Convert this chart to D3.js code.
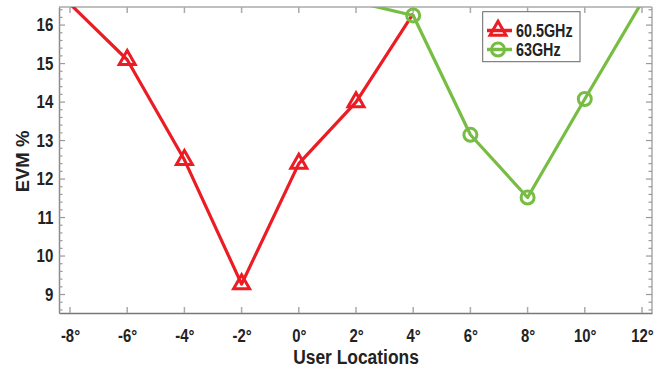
<!DOCTYPE html>
<html>
<head>
<meta charset="utf-8">
<script src="https://cdn.jsdelivr.net/npm/d3@7"></script>
<style>
  html, body { margin: 0; padding: 0; background: #fff; }
  svg { display: block; }
  text { font-family: "Liberation Sans", Arial, sans-serif; font-weight: bold; fill: #222; }
</style>
</head>
<body>
<svg id="chart" width="662" height="368"></svg>
<script>
// User location angles (degrees)
const locations = [-8, -6, -4, -2, 0, 2, 4, 6, 8, 10, 12];

// EVM % at 60.5 GHz (measured from -8° to 4°)
const locs605 = [-8, -6, -4, -2, 0, 2, 4];
const evm605 = [16.55, 15.1, 12.5, 9.27, 12.4, 14.0, 16.3];

// EVM % at 63 GHz (measured from 2° to 12°)
const locs63 = [2, 4, 6, 8, 10, 12];
const evm63 = [16.6, 16.25, 13.15, 11.52, 14.08, 16.6];

const yTicks = [9, 10, 11, 12, 13, 14, 15, 16];
const seriesNames = ["60.5GHz", "63GHz"];
const seriesColors = ["#ec1c24", "#77bd43"];

const svg = d3.select("#chart");
const plotL = 59, plotR = 652, plotT = 7, plotB = 313;

const x = d3.scaleLinear().domain([-8.385, 12.35]).range([plotL, plotR]);
const y = d3.scaleLinear().domain([8.52, 16.47]).range([plotB, plotT]);

svg.append("defs").append("clipPath").attr("id", "plotClip")
  .append("rect").attr("x", plotL).attr("y", plotT)
  .attr("width", plotR - plotL).attr("height", plotB - plotT);

// Box outline (top and right)
const frame = svg.append("g");
frame.append("line").attr("x1", plotL).attr("x2", plotR).attr("y1", plotT).attr("y2", plotT)
  .attr("stroke", "#aaa").attr("stroke-width", 1.5);
frame.append("line").attr("x1", plotR).attr("x2", plotR).attr("y1", plotT).attr("y2", plotB)
  .attr("stroke", "#aaa").attr("stroke-width", 1.5);

// Minor ticks on y (every 0.2)
const minorY = d3.range(8.6, 16.45, 0.2).filter(v => Math.abs(v - Math.round(v)) > 0.01);

// Bottom axis
const xAxis = d3.axisBottom(x).tickValues(locations).tickSize(0)
  .tickFormat(d => d + "°");
const gx = svg.append("g").attr("transform", `translate(0,${plotB})`).call(xAxis);
gx.select(".domain").attr("stroke", "#777").attr("stroke-width", 1.5);
gx.selectAll("text").style("font-size", "17.5px").attr("fill", "#222")
  .attr("y", 29.5).attr("dy", null).attr("transform", "scale(0.85,1)");

// inward x ticks at bottom and top
svg.append("g").selectAll("line").data(locations).join("line")
  .attr("x1", d => x(d)).attr("x2", d => x(d))
  .attr("y1", plotB).attr("y2", plotB - 6)
  .attr("stroke", "#aaa").attr("stroke-width", 1.5);
svg.append("g").selectAll("line").data(locations).join("line")
  .attr("x1", d => x(d)).attr("x2", d => x(d))
  .attr("y1", plotT).attr("y2", plotT + 6)
  .attr("stroke", "#aaa").attr("stroke-width", 1.5);

// Left axis
const yAxis = d3.axisLeft(y).tickValues(yTicks).tickSize(0);
const gy = svg.append("g").attr("transform", `translate(${plotL},0)`).call(yAxis);
gy.select(".domain").attr("stroke", "#8a8a8a").attr("stroke-width", 1.5);
gy.selectAll("text").style("font-size", "17.5px").attr("fill", "#222")
  .attr("x", -5.7 / 0.86).attr("transform", "scale(0.86,1)");

// inward y ticks, left and right
[[plotL, 1], [plotR, -1]].forEach(([x0, dir]) => {
  const g = svg.append("g");
  g.selectAll("line.major").data(yTicks).join("line").attr("class", "major")
    .attr("x1", x0).attr("x2", x0 + dir * 6)
    .attr("y1", d => y(d)).attr("y2", d => y(d))
    .attr("stroke", "#999").attr("stroke-width", 1.2);
  g.selectAll("line.minor").data(minorY).join("line").attr("class", "minor")
    .attr("x1", x0).attr("x2", x0 + dir * 3.5)
    .attr("y1", d => y(d)).attr("y2", d => y(d))
    .attr("stroke", "#999").attr("stroke-width", 1.2);
});

// Axis titles
svg.append("text").attr("transform", "translate(356,364) scale(0.87,1)")
  .attr("text-anchor", "middle").style("font-size", "20px").text("User Locations");
svg.append("text").attr("transform", "translate(28.5,161.5) rotate(-90)")
  .attr("text-anchor", "middle").style("font-size", "18.5px").text("EVM %");

// Series
const series = [
  { name: seriesNames[0], color: seriesColors[0], xs: locs605, ys: evm605, marker: "tri" },
  { name: seriesNames[1], color: seriesColors[1], xs: locs63, ys: evm63, marker: "circ" }
];

const line = d3.line().x(d => x(d[0])).y(d => y(d[1]));
// upward triangle with its centroid on the data point
const triPath = "M0,-9.3 L8,4.7 L-8,4.7 Z";

function drawMarker(g, type, color) {
  if (type === "tri") {
    g.append("path").attr("d", triPath).attr("fill", "none")
      .attr("stroke", color).attr("stroke-width", 3).attr("stroke-linejoin", "miter");
  } else {
    g.append("circle").attr("r", 6.5).attr("fill", "none")
      .attr("stroke", color).attr("stroke-width", 3);
  }
}

const plot = svg.append("g");
series.forEach(s => {
  const pts = s.xs.map((v, i) => [v, s.ys[i]]);
  plot.append("path").datum(pts).attr("d", line)
    .attr("clip-path", "url(#plotClip)")
    .attr("fill", "none").attr("stroke", s.color).attr("stroke-width", 3.2)
    .attr("stroke-linejoin", "round");
  pts.forEach(p => {
    if (y(p[1]) - 7 < plotT) return;
    const g = plot.append("g").attr("transform", `translate(${x(p[0])},${y(p[1])})`);
    drawMarker(g, s.marker, s.color);
  });
});

// Legend
const lg = svg.append("g");
lg.append("rect").attr("x", 482.7).attr("y", 11.7).attr("width", 97.3).attr("height", 50)
  .attr("fill", "#fff").attr("stroke", "#666").attr("stroke-width", 1);
series.forEach((s, i) => {
  const cy = 30.5 + i * 19;
  lg.append("line").attr("x1", 487).attr("x2", 512).attr("y1", cy).attr("y2", cy)
    .attr("stroke", s.color).attr("stroke-width", 3.5);
  const g = lg.append("g").attr("transform", `translate(498,${cy})`);
  drawMarker(g, s.marker, s.color);
  lg.append("text").attr("transform", `translate(516,${36.5 + i * 19.7}) scale(0.82,1)`)
    .style("font-size", "17.5px").text(s.name);
});
</script>
</body>
</html>
